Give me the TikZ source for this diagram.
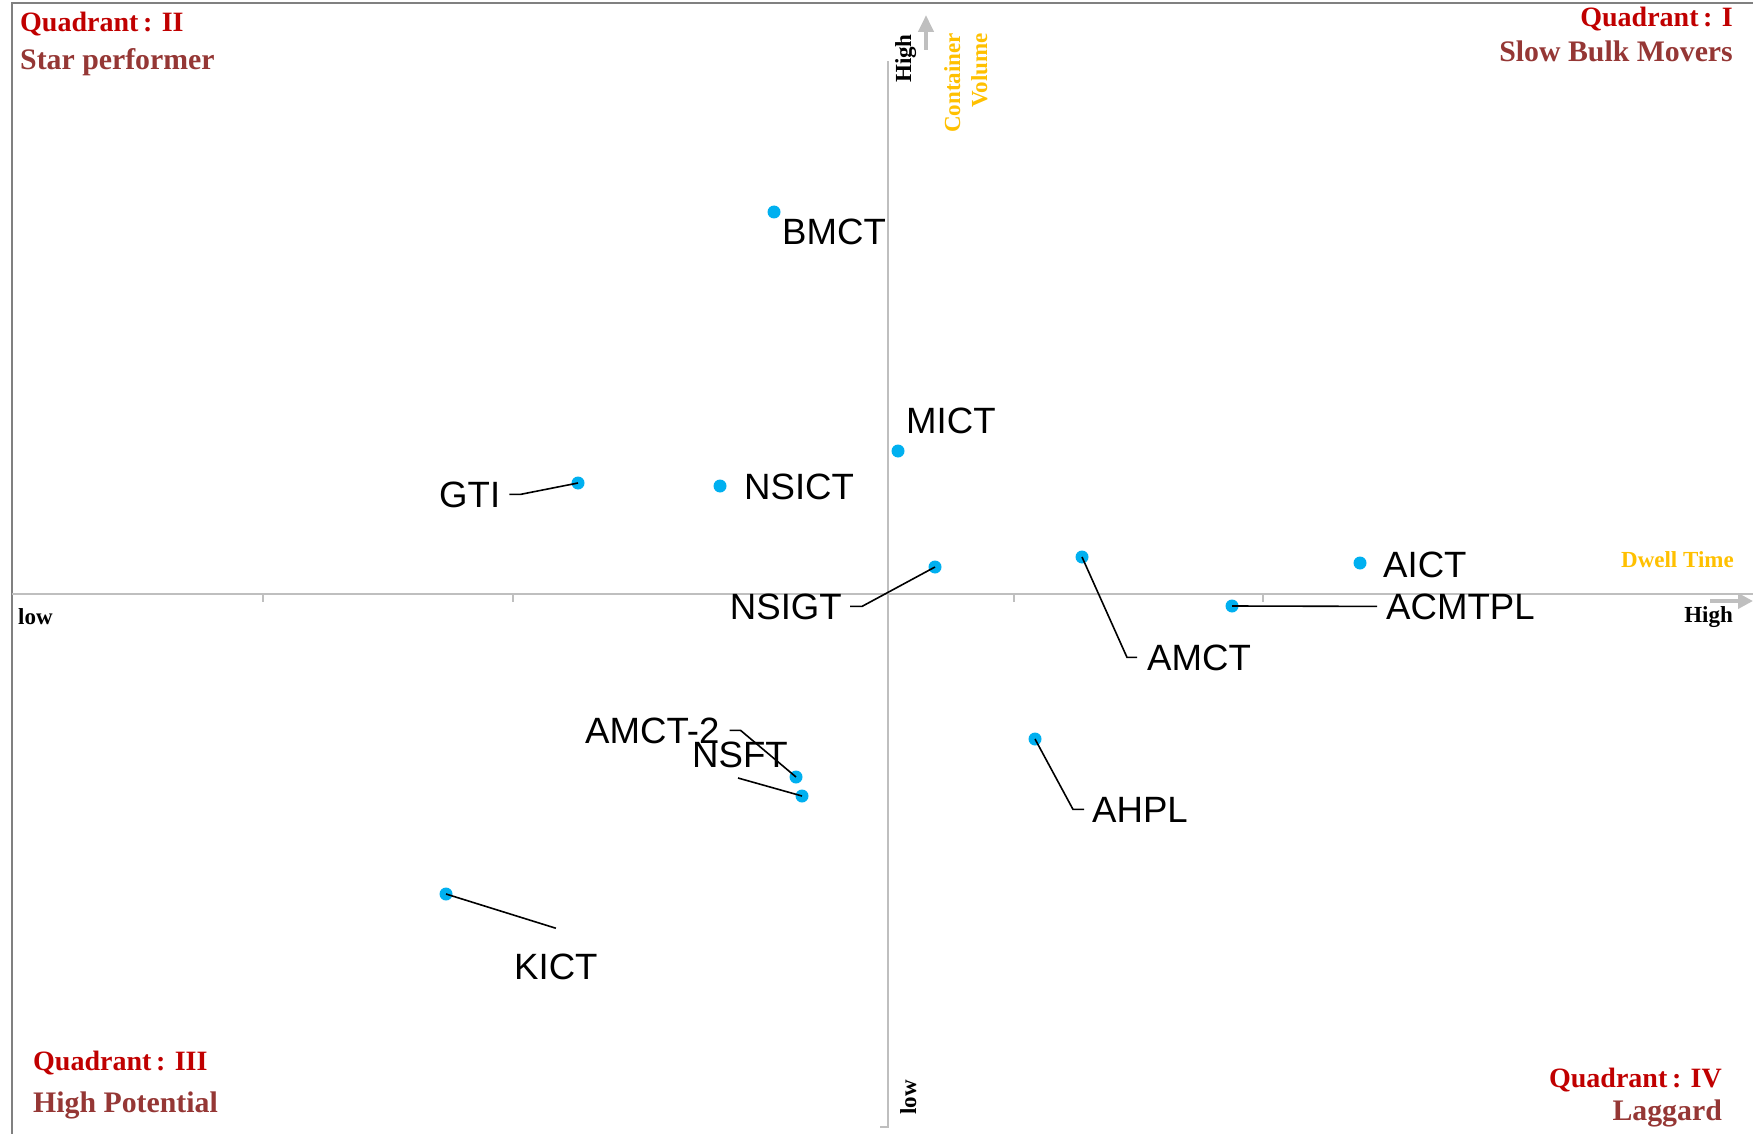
\documentclass[tikz,border=0pt]{standalone}
\usepackage{fontspec}
\setmainfont{Liberation Serif}
\setsansfont{Liberation Sans}
\usetikzlibrary{arrows.meta}
\definecolor{dotblue}{HTML}{00B0F0}
\definecolor{quadred}{HTML}{C00000}
\definecolor{subred}{HTML}{953735}
\definecolor{gold}{HTML}{FFC000}
\definecolor{axisgray}{HTML}{BFBFBF}
\definecolor{framegray}{HTML}{808080}
\tikzset{
  tpoint/.style={circle,fill=dotblue,inner sep=0pt,minimum size=13pt},
  lbl/.style={font=\sffamily\fontsize{36.6}{40}\selectfont,inner sep=0pt,anchor=base west},
  leader/.style={black,line width=1.6pt},
  quad/.style={font=\bfseries\fontsize{28}{30}\selectfont,text=quadred,inner sep=0pt},
  subt/.style={font=\bfseries\fontsize{29.8}{32}\selectfont,text=subred,inner sep=0pt},
  axlbl/.style={font=\bfseries\fontsize{23}{27}\selectfont,inner sep=0pt},
  axisline/.style={axisgray,line width=2pt}
}
\begin{document}
\begin{tikzpicture}[x=1pt,y=-1pt]
  \useasboundingbox (0,0) rectangle (1753,1134);
  % Frame
  \draw[framegray,line width=2pt] (12,1134) -- (12,3) -- (1753,3);
  % Axis
  \draw[axisline] (12,594) -- (1753,594);
  \draw[axisline] (880,1127) -- (888,1127) -- (888,61);
  \foreach \t in {263,513,1014,1263} {
    \draw[axisline] (\t,594) -- (\t,602);
  }
  \draw[axisgray,line width=4pt,-{Triangle[length=15pt,width=15pt]}] (1710,601) -- (1753,601);
  \draw[axisgray,line width=4pt,-{Triangle[length=17pt,width=15pt]}] (926,50) -- (926,15);
  % Terminals
  \foreach \n/\x/\y in {bmct/774/212, mict/898/451, gti/578/483, nsict/720/486,
      nsigt/935/567, amct/1082/557, aict/1360/563, acmtpl/1232/606,
      ahpl/1035/739, amcttwo/796/777, nsft/802/796, kict/446/894} {
    \node[tpoint] (\n) at (\x,\y) {};
  }
  \foreach \n/\x/\y/\t in {bmct/782/244/BMCT, mict/906/433/MICT, gti/439/507/GTI,
      nsict/744/499/NSICT, amct/1147/670/AMCT, aict/1383/577/AICT,
      acmtpl/1386/619/ACMTPL, ahpl/1092/822/AHPL, amcttwo/585/743/AMCT-2,
      nsft/692/767/NSFT, kict/514/979/KICT} {
    \node[lbl] (\n-l) at (\x,\y) {\t};
  }
  \node[lbl,anchor=base east] (nsigt-l) at (842,619) {NSIGT};
  % Leaders
  \coordinate (nsft-b) at (738,778);
  \draw[leader] ([xshift=9pt]gti-l.east) -- ++(11,0) -- (gti.center);
  \draw[leader] ([xshift=8pt]nsigt-l.east) -- ++(12,0) -- (nsigt.center);
  \draw[leader] ([xshift=-10pt]amct-l.west) -- ++(-10,0) -- (amct.center);
  \draw[leader] ([xshift=-8pt]ahpl-l.west) -- ++(-11,0) -- (ahpl.center);
  \draw[leader] (acmtpl.center) -- ([xshift=-9pt]acmtpl-l.west);
  \draw[leader] ([xshift=10pt]amcttwo-l.east) -- ++(11,0) -- (amcttwo.center);
  \draw[leader] (nsft-b) -- (nsft.center);
  \draw[leader] ([yshift=25pt]kict-l.north) -- (kict.center);
  % Axis labels
  \node[axlbl,anchor=base west] (xlow) at (18,624) {low};
  \node[axlbl,anchor=base east] (xhigh) at (1733,622) {High};
  \node[axlbl,anchor=base east,text=gold] (xname) at (1734,567) {Dwell Time};
  \node[axlbl,rotate=90,anchor=base west] (yhigh) at (911,83) {High};
  \node[axlbl,rotate=90,anchor=base west] (ylow) at (916,1115) {low};
  \node[axlbl,rotate=90,anchor=north east,align=right,text=gold] (yname) at (944,33) {Container\\Volume};
  % Quadrants
  \node[quad,anchor=base west] (q2) at (20,32) {Quadrant\,: II};
  \node[subt,anchor=base west] (q2s) at (20,70) {Star performer};
  \node[quad,anchor=base east] (q1) at (1733,27) {Quadrant\,: I};
  \node[subt,anchor=base east] (q1s) at (1733,62) {Slow Bulk Movers};
  \node[quad,anchor=base west] (q3) at (33,1070) {Quadrant\,: III};
  \node[subt,anchor=base west] (q3s) at (33,1112) {High Potential};
  \node[quad,anchor=base east] (q4) at (1722,1087) {Quadrant\,: IV};
  \node[subt,anchor=base east] (q4s) at (1722,1120) {Laggard};
\end{tikzpicture}
\end{document}
